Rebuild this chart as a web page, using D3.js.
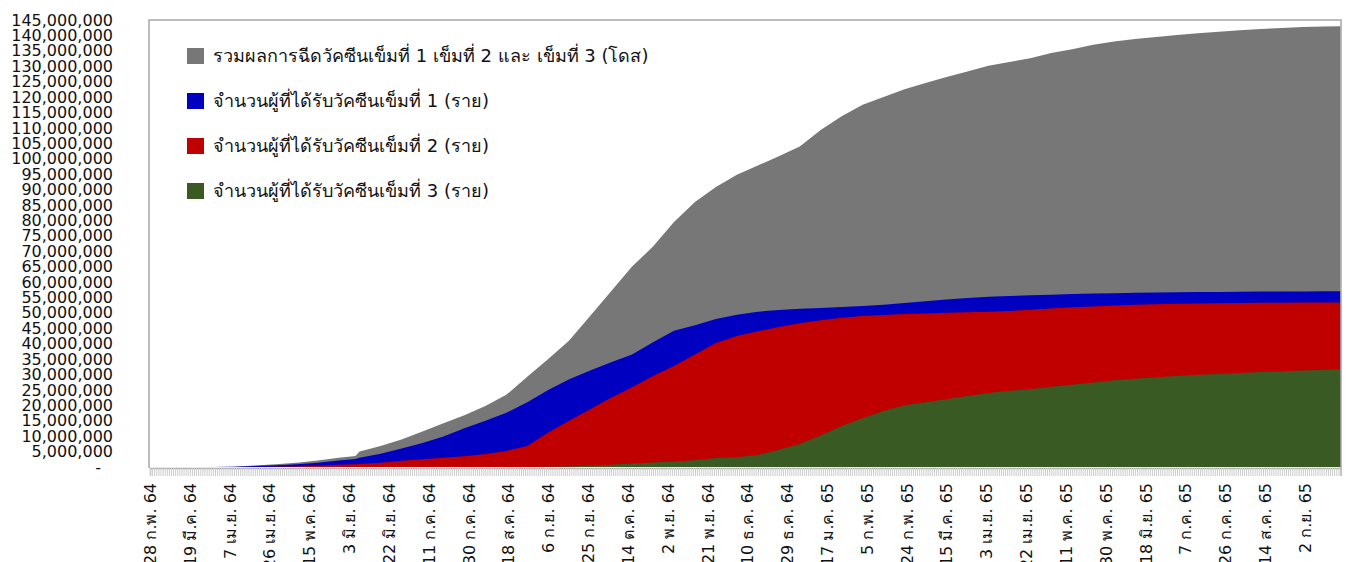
<!DOCTYPE html>
<html lang="th">
<head>
<meta charset="UTF-8">
<title>Vaccination</title>
<script src="https://d3js.org/d3.v7.min.js"></script>
<style>
  body { margin: 0; background: #fff; }
  svg { display: block; }
  .ylab { font-family: "DejaVu Sans", sans-serif; font-size: 16px; fill: #111; text-anchor: end; }
  .xlab { font-family: "DejaVu Sans", sans-serif; font-size: 16px; fill: #111; }
  .legend { font-family: "DejaVu Sans", sans-serif; font-size: 18px; fill: #111; }
</style>
</head>
<body>
<svg id="chart" width="1346" height="562"></svg>
<script>
// days since 28 Feb 2021
const days = [0, 10, 20, 30, 40, 50, 60, 70, 80, 90, 98, 100, 110, 120, 130, 140, 150, 160, 170, 180,
  190, 200, 210, 220, 230, 240, 250, 260, 270, 280, 290, 300, 310, 320, 330, 340, 350, 360, 370, 380,
  390, 400, 410, 420, 430, 440, 450, 460, 470, 480, 490, 500, 510, 520, 530, 540, 550, 560, 568]

// values in millions
const totalDoses = [0, 0, 0, 0.03, 0.1, 0.5, 0.9, 1.4, 2.1, 3.0, 3.6, 5.0, 6.8, 8.9, 11.5, 14.2, 16.8, 19.8, 23.4, 29.3,
  35.0, 41.0, 49.0, 57.0, 65.0, 71.5, 79.5, 86.0, 90.8, 94.8, 97.8, 100.8, 104.0, 109.3, 113.8, 117.5, 120.0, 122.5, 124.6, 126.5,
  128.3, 130.2, 131.4, 132.6, 134.3, 135.5, 137.0, 138.0, 138.8, 139.5, 140.1, 140.7, 141.2, 141.7, 142.1, 142.4, 142.7, 142.9, 143.0]
const dose1 = [0, 0, 0, 0, 0.05, 0.3, 0.6, 0.9, 1.4, 2.1, 2.6, 3.0, 4.3, 6.0, 7.8, 9.9, 12.6, 15.0, 17.6, 21.0,
  25.0, 28.5, 31.3, 34.0, 36.5, 40.5, 44.2, 46.0, 48.0, 49.4, 50.4, 50.9, 51.3, 51.6, 51.9, 52.2, 52.6, 53.2, 53.8, 54.3,
  54.8, 55.2, 55.5, 55.7, 55.9, 56.1, 56.3, 56.4, 56.5, 56.6, 56.7, 56.75, 56.8, 56.85, 56.9, 56.9, 56.95, 57.0, 57.0]
const dose2 = [0, 0, 0, 0, 0, 0, 0.05, 0.15, 0.4, 0.7, 0.9, 1.0, 1.4, 2.0, 2.5, 3.0, 3.5, 4.2, 5.2, 6.8,
  11.2, 15.0, 18.7, 22.5, 25.9, 29.5, 32.8, 36.5, 40.2, 42.5, 44.0, 45.4, 46.6, 47.6, 48.4, 49.0, 49.3, 49.6, 49.8, 50.0,
  50.2, 50.4, 50.6, 51.0, 51.4, 51.8, 52.1, 52.4, 52.6, 52.8, 52.95, 53.05, 53.15, 53.2, 53.25, 53.3, 53.35, 53.4, 53.4]
const dose3 = [0, 0, 0, 0, 0, 0, 0, 0, 0, 0, 0, 0, 0, 0, 0, 0, 0, 0, 0, 0,
  0.05, 0.2, 0.4, 0.7, 1.1, 1.5, 1.8, 2.2, 2.9, 3.2, 3.9, 5.6, 7.5, 10.2, 13.3, 15.8, 18.2, 20.0, 21.0, 22.0,
  23.0, 24.0, 24.7, 25.2, 26.0, 26.7, 27.4, 28.1, 28.6, 29.1, 29.5, 29.9, 30.2, 30.5, 30.8, 31.1, 31.3, 31.5, 31.7]

const seriesNames = [
  "รวมผลการฉีดวัคซีนเข็มที่ 1 เข็มที่ 2 และ เข็มที่ 3 (โดส)",
  "จำนวนผู้ที่ได้รับวัคซีนเข็มที่ 1 (ราย)",
  "จำนวนผู้ที่ได้รับวัคซีนเข็มที่ 2 (ราย)",
  "จำนวนผู้ที่ได้รับวัคซีนเข็มที่ 3 (ราย)"
]
const seriesColors = ["#777777", "#0000c0", "#c00000", "#3a5a23"]

const xTickLabels = ["28 ก.พ. 64", "19 มี.ค. 64", "7 เม.ย. 64", "26 เม.ย. 64", "15 พ.ค. 64", "3 มิ.ย. 64",
  "22 มิ.ย. 64", "11 ก.ค. 64", "30 ก.ค. 64", "18 ส.ค. 64", "6 ก.ย. 64", "25 ก.ย. 64", "14 ต.ค. 64",
  "2 พ.ย. 64", "21 พ.ย. 64", "10 ธ.ค. 64", "29 ธ.ค. 64", "17 ม.ค. 65", "5 ก.พ. 65", "24 ก.พ. 65",
  "15 มี.ค. 65", "3 เม.ย. 65", "22 เม.ย. 65", "11 พ.ค. 65", "30 พ.ค. 65", "18 มิ.ย. 65", "7 ก.ค. 65",
  "26 ก.ค. 65", "14 ส.ค. 65", "2 ก.ย. 65"]
const xTickStep = 19
const yTicks = d3.range(0, 145000001, 5000000)

const svg = d3.select("#chart")
const plotL = 149, plotR = 1341, plotT = 20, plotB = 467

let x = d3.scaleLinear().domain([0, 568]).range([150, 1340.5])
let y = d3.scaleLinear().domain([0, 145000000]).range([plotB, plotT])

// areas, drawn over each other (not stacked)
const allSeries = [totalDoses, dose1, dose2, dose3]
allSeries.forEach(function (vals, k) {
    let pts = days.map(function (d, i) { return {d: d, v: vals[i] * 1e6} })
    let area = d3.area()
        .x(function (p) { return x(p.d) })
        .y0(y(0))
        .y1(function (p) { return y(p.v) })
    svg.append("path").datum(pts)
        .attr("d", area)
        .attr("fill", seriesColors[k])
})

// plot frame
svg.append("path")
    .attr("d", `M${plotL},${plotB + 1}V${plotT}H${plotR}V${plotB + 1}`)
    .attr("fill", "none")
    .attr("stroke", "#a6a6a6")
    .attr("stroke-width", 1.5)

// daily tick band
let dayAxis = d3.axisBottom(x).tickValues(d3.range(0, 569)).tickSize(8).tickFormat("")
let gDay = svg.append("g").attr("transform", `translate(0,${plotB + 1})`).call(dayAxis)
gDay.select(".domain").attr("stroke", "#a6a6a6").attr("stroke-width", 1.5)
gDay.selectAll(".tick line").attr("stroke", "#cccccc")

// rotated date labels
xTickLabels.forEach(function (t, i) {
    svg.append("text")
        .attr("class", "xlab")
        .attr("transform", `translate(${x(i * xTickStep) + 6},483) rotate(-90)`)
        .attr("text-anchor", "end")
        .text(t)
})

// y labels
let yAxis = d3.axisLeft(y).tickValues(yTicks).tickSize(0).tickPadding(0)
    .tickFormat(function (v) { return v === 0 ? "-" : d3.format(",")(v) })
let gY = svg.append("g").attr("transform", "translate(113,0)").call(yAxis)
gY.select(".domain").remove()
gY.attr("font-family", null).attr("font-size", null)
gY.selectAll("text").attr("class", "ylab").attr("fill", null)
gY.selectAll(".tick").filter(function (v) { return v === 0 }).select("text").attr("x", -12)

// legend
seriesNames.forEach(function (name, i) {
    let g = svg.append("g").attr("transform", `translate(187,${48 + i * 45})`)
    g.append("rect").attr("width", 17).attr("height", 16).attr("fill", seriesColors[i])
    g.append("text").attr("class", "legend").attr("x", 26).attr("y", 14).text(name)
})
</script>
</body>
</html>
